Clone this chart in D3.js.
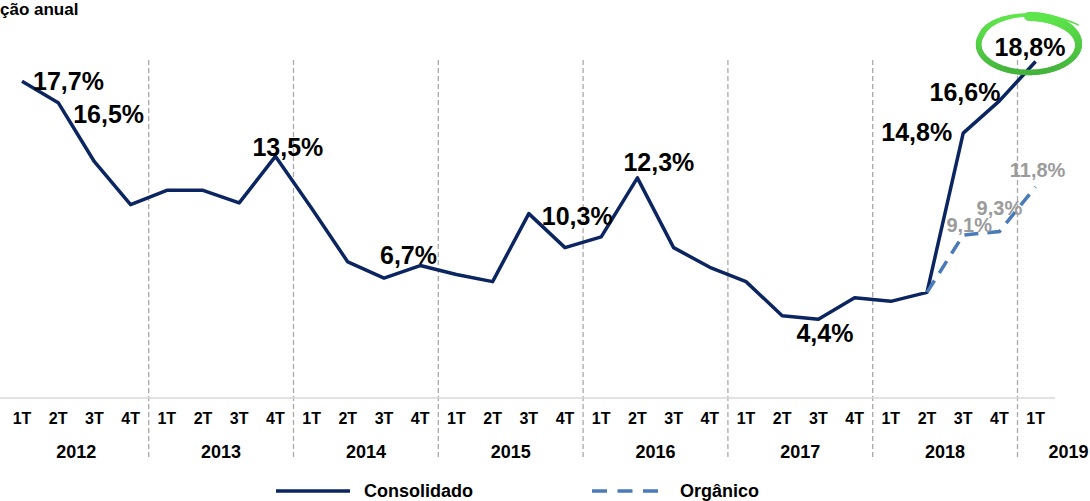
<!DOCTYPE html>
<html>
<head>
<meta charset="utf-8">
<script src="https://cdn.jsdelivr.net/npm/d3@7"></script>
<style>
  body { margin: 0; background: #fff; }
  text { font-family: "Liberation Sans", Arial, sans-serif; font-weight: bold; }
</style>
</head>
<body>
<div id="chart"></div>
<script>
// valeurs (variação anual, %)
var quarters = ["1T", "2T", "3T", "4T"];
var years = ["2012", "2013", "2014", "2015", "2016", "2017", "2018", "2019"];
var consolidado = [17.7, 16.5, 13.2, 10.8, 11.6, 11.6, 10.9, 13.5,
                   10.6, 7.6, 6.7, 7.4, 6.9, 6.5, 10.3, 8.4,
                   9.0, 12.3, 8.4, 7.3, 6.5, 4.6, 4.4, 5.6,
                   5.4, 5.9, 14.8, 16.6, 18.8];
var organico = [null, null, null, null, null, null, null, null,
                null, null, null, null, null, null, null, null,
                null, null, null, null, null, null, null, null,
                null, 5.9, 9.1, 9.3, 11.8];
var labelIdx = [0, 1, 7, 10, 14, 17, 22, 26, 27, 28]; // points avec etiquette
var labelIdxOrg = [26, 27, 28];

var width = 1090, height = 501;
var fmt = function(v) { return d3.format(".1f")(v).replace(".", ",") + "%"; };

var svg = d3.select("#chart").append("svg")
    .attr("width", width)
    .attr("height", height);

var x = d3.scaleLinear().domain([0, 28]).range([22, 1035.6]);
var y = d3.scaleLinear().domain([0, 19]).range([398, 57.9]);

// titre (coupé a gauche dans l'original)
svg.append("text")
    .attr("x", 0).attr("y", 15)
    .attr("font-size", 17)
    .attr("fill", "#000")
    .text("ção anual");

// separateurs d'annees
var seps = d3.range(1, years.length).map(function(k) { return k * 4 - 0.5; });
svg.selectAll(".sep").data(seps).enter().append("line")
    .attr("class", "sep")
    .attr("x1", function(d) { return x(d); })
    .attr("x2", function(d) { return x(d); })
    .attr("y1", 60).attr("y2", 458)
    .attr("stroke", "#a9a9a9")
    .attr("stroke-width", 1.3)
    .attr("stroke-dasharray", "5,3");

// ligne de base
svg.append("line")
    .attr("x1", 0).attr("x2", 1055)
    .attr("y1", y(0)).attr("y2", y(0))
    .attr("stroke", "#d9d9d9")
    .attr("stroke-width", 1.5);

// labels trimestres
var n = consolidado.length;
svg.selectAll(".q").data(d3.range(n)).enter().append("text")
    .attr("class", "q")
    .attr("x", function(i) { return x(i); })
    .attr("y", 424)
    .attr("text-anchor", "middle")
    .attr("font-size", 16)
    .text(function(i) { return quarters[i % 4]; });

// labels annees
svg.selectAll(".yr").data(years).enter().append("text")
    .attr("class", "yr")
    .attr("x", function(d, k) { return k < years.length - 1 ? x(k * 4 + 1.5) : x(k * 4) + 33; })
    .attr("y", 458)
    .attr("text-anchor", "middle")
    .attr("font-size", 18)
    .text(function(d) { return d; });

// courbes
var line = d3.line()
    .defined(function(d) { return d != null; })
    .x(function(d, i) { return x(i); })
    .y(function(d) { return y(d); });

svg.append("path")
    .datum(consolidado)
    .attr("d", line)
    .attr("fill", "none")
    .attr("stroke", "#0b2560")
    .attr("stroke-width", 3.5)
    .attr("stroke-linejoin", "round");

svg.append("path")
    .datum(organico)
    .attr("d", line)
    .attr("fill", "none")
    .attr("stroke", "#4a7ab8")
    .attr("stroke-width", 3.5)
    .attr("stroke-dasharray", "14,9");

// etiquettes consolidado : decalages [dx, dy, ancre]
var offs = {0: [11, 9, "start"], 1: [15, 20, "start"], 7: [-23, 0, "start"],
            10: [-4, -14, "start"], 14: [13, 11, "start"], 17: [-14, -7, "start"],
            22: [-22, 23, "start"], 26: [-11, 8, "end"], 27: [1, 0, "end"],
            28: [-41, -5, "start"]};
svg.selectAll(".lbl").data(labelIdx).enter().append("text")
    .attr("class", "lbl")
    .attr("x", function(i) { return x(i) + offs[i][0]; })
    .attr("y", function(i) { return y(consolidado[i]) + offs[i][1]; })
    .attr("text-anchor", function(i) { return offs[i][2]; })
    .attr("font-size", 25)
    .attr("fill", "#000")
    .text(function(i) { return fmt(consolidado[i]); });

// etiquettes organico
var offsOrg = {26: [6, -3], 27: [0, -17], 28: [2, -10]};
svg.selectAll(".lblo").data(labelIdxOrg).enter().append("text")
    .attr("class", "lblo")
    .attr("x", function(i) { return x(i) + offsOrg[i][0]; })
    .attr("y", function(i) { return y(organico[i]) + offsOrg[i][1]; })
    .attr("text-anchor", "middle")
    .attr("font-size", 20)
    .attr("fill", "#9b9b9b")
    .text(function(i) { return fmt(organico[i]); });

// cercle vert autour du dernier point
var cx = x(28) - 7, cy = y(consolidado[28]) - 17, rx = 50, ry = 28;
var angles = d3.range(-90, 322, 3);
var pts = angles.map(function(a) {
    var r = a > 200 ? 1 + (a - 200) / 120 * 0.28 : 1;
    var t = a * Math.PI / 180;
    return [cx + rx * r * Math.cos(t), cy + ry * Math.sin(t) * (a > 200 ? 1 + (a - 200) / 120 * 0.1 : 1)];
});
var wAt = function(a) {
    if (a < -50) return 9;
    if (a < 30) return 9 - (a + 50) / 80 * 3.5;
    if (a < 210) return 5.5;
    return Math.max(1.2, 5.5 - (a - 210) / 110 * 4.3);
};
var green = d3.scaleLinear().domain([cy - ry, cy + ry]).range(["#5fe64c", "#44b43c"]).clamp(true);
var segs = d3.range(pts.length - 1);
svg.selectAll(".ring").data(segs).enter().append("line")
    .attr("class", "ring")
    .attr("x1", function(k) { return pts[k][0]; })
    .attr("y1", function(k) { return pts[k][1]; })
    .attr("x2", function(k) { return pts[k + 1][0]; })
    .attr("y2", function(k) { return pts[k + 1][1]; })
    .attr("stroke", function(k) { return green((pts[k][1] + pts[k + 1][1]) / 2); })
    .attr("stroke-width", function(k) { return wAt(angles[k]); })
    .attr("stroke-linecap", "round");

// legende
var leg = svg.append("g");
leg.append("line")
    .attr("x1", 276).attr("x2", 350).attr("y1", 491).attr("y2", 491)
    .attr("stroke", "#0b2560").attr("stroke-width", 3.5);
leg.append("text")
    .attr("x", 364).attr("y", 497)
    .attr("font-size", 18)
    .text("Consolidado");
leg.append("line")
    .attr("x1", 592).attr("x2", 658).attr("y1", 491).attr("y2", 491)
    .attr("stroke", "#4a7ab8").attr("stroke-width", 3.5)
    .attr("stroke-dasharray", "15,10.5");
leg.append("text")
    .attr("x", 680).attr("y", 497)
    .attr("font-size", 18)
    .text("Orgânico");
</script>
</body>
</html>
